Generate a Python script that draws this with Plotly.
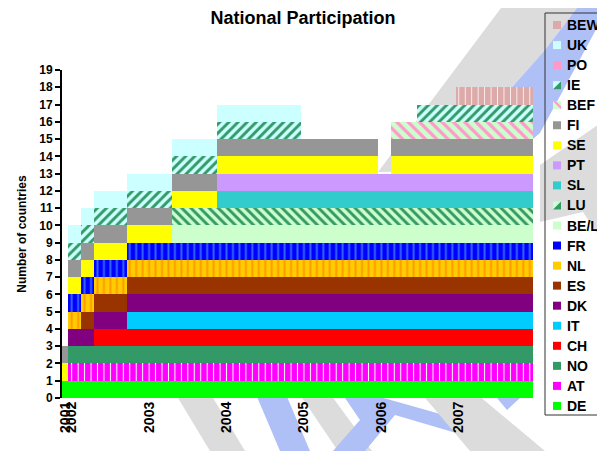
import pandas as pd
import plotly.graph_objects as go

# ---------------- data ----------------
months = [p.strftime("%Y-%m") for p in pd.period_range("2001-12", "2007-12", freq="M")]

tick_months = ["2001-12", "2002-01", "2003-01", "2004-01", "2005-01", "2006-01", "2007-01"]
tick_labels = ["2001", "2002", "2003", "2004", "2005", "2006", "2007"]

# stacking order (bottom -> top)
countries = ["DE", "AT", "NO", "CH", "IT", "DK", "ES", "NL", "FR", "BE/LU",
             "LU", "SL", "PT", "SE", "FI", "BEF", "IE", "PO", "UK", "BEW"]

# participation periods (inclusive months)
period_country = ["DE", "AT", "NO", "CH", "IT", "DK", "ES", "NL", "FR", "BE/LU",
                  "LU", "SL", "PT", "SE", "SE", "FI", "FI", "BEF", "IE", "IE",
                  "UK", "BEW"]
period_start = ["2001-12", "2002-01", "2002-01", "2002-05", "2002-10", "2002-01", "2002-03", "2002-01", "2002-01", "2003-05",
                "2003-05", "2003-12", "2003-12", "2001-12", "2006-03", "2001-12", "2006-03", "2006-03", "2002-01", "2006-07",
                "2002-01", "2007-01"]
period_end = ["2007-12", "2007-12", "2007-12", "2007-12", "2007-12", "2007-12", "2007-12", "2007-12", "2007-12", "2007-12",
              "2007-12", "2007-12", "2007-12", "2005-12", "2007-12", "2005-12", "2007-12", "2007-12", "2004-12", "2007-12",
              "2004-12", "2007-12"]

# ---------------- styles ----------------
base_color = {
    "DE": "#00FF00", "AT": "#FF00FF", "NO": "#339966", "CH": "#FF0000", "IT": "#00CCFF",
    "DK": "#800080", "ES": "#993300", "NL": "#FFCC00", "FR": "#0000FF", "BE/LU": "#CCFFCC",
    "LU": "#CCFFCC", "SL": "#33CCCC", "PT": "#CC99FF", "SE": "#FFFF00", "FI": "#969696",
    "BEF": "#CCFFCC", "IE": "#CCFFFF", "PO": "#FF99CC", "UK": "#CCFFFF", "BEW": "#DDAAAA",
}
MONTH_PX = 471 / 73.0
patterns = {
    "AT": dict(shape="|", fgcolor="#FFFFFF", size=MONTH_PX, solidity=0.16),
    "NL": dict(shape="|", fgcolor="#FF9900", size=MONTH_PX, solidity=0.3),
    "FR": dict(shape="|", fgcolor="#3366FF", size=MONTH_PX, solidity=0.3),
    "IE": dict(shape="/", fgcolor="#339966", size=MONTH_PX, solidity=0.45),
    "LU": dict(shape="\\", fgcolor="#339966", size=MONTH_PX, solidity=0.45),
    "BEF": dict(shape="\\", fgcolor="#FF99CC", size=8, solidity=0.4),
    "BEW": dict(shape="|", fgcolor="#FFFFFF", size=MONTH_PX, solidity=0.12),
}

FONT = "Liberation Sans, Arial, sans-serif"

fig = go.Figure()
for c in countries:
    active = set()
    for pc, s, e in zip(period_country, period_start, period_end):
        if pc == c:
            active.update(m for m in months if s <= m <= e)
    y = [1 if m in active else 0 for m in months]
    marker = dict(color=base_color[c], line=dict(width=0))
    if c in patterns:
        p = dict(patterns[c])
        p["bgcolor"] = base_color[c]
        p["fillmode"] = "replace"
        marker["pattern"] = p
    fig.add_trace(go.Bar(x=months, y=y, name=c, marker=marker, width=1.0,
                         showlegend=False, hoverinfo="skip"))

# ---------------- layout ----------------
OFF = 8  # page body margin of the html page
W, H = 605 - OFF, 451 - OFF
L, R, T, B = 62 - OFF, 605 - 533, 70 - OFF, 451 - 398
pw, ph = W - L - R, H - T - B


def px_x(x):
    return (x - OFF - L) / pw


def px_y(y):
    return (H - B - (y - OFF)) / ph


def poly(points):
    return "M " + " L ".join(f"{px_x(x):.5f} {px_y(y):.5f}" for x, y in points) + " Z"


shapes = []
annotations = []

# faint background watermark bands
GRAY = "#DCDCDC"
BLUE = "#AFC0F7"
bands = [
    # upper right
    (GRAY, [(507, 0), (583, 0), (545, 50), (490, 112), (455, 171), (378, 172)]),
    (BLUE, [(583, 0), (612, 0), (540, 133), (520, 150), (490, 112), (545, 50)]),
    (GRAY, [(540, 165), (605, 120), (605, 245), (583, 212), (540, 222)]),
    # below the axis
    (GRAY, [(137, 330), (172, 330), (245, 451), (210, 451)]),
    (BLUE, [(216, 300), (246, 300), (310, 451), (280, 451)]),
    (GRAY, [(290, 380), (320, 380), (372, 451), (338, 451)]),
    (BLUE, [(343, 395), (373, 395), (490, 428), (480, 440), (395, 415), (365, 451), (333, 451), (360, 420)]),
    (GRAY, [(410, 380), (460, 380), (545, 451), (470, 451)]),
    (BLUE, [(497, 398), (520, 398), (507, 410)]),
]
for col, pts in bands:
    shapes.append(dict(type="path", xref="paper", yref="paper", path=poly(pts),
                       line=dict(width=0), fillcolor=col, layer="below"))

# manual legend (box + swatches + labels)
shapes.append(dict(type="rect", xref="paper", yref="paper",
                   x0=px_x(545), x1=px_x(640), y0=px_y(415), y1=px_y(13),
                   line=dict(color="#333333", width=1), fillcolor="rgba(0,0,0,0)", layer="above"))
legend_order = countries[::-1]
for i, c in enumerate(legend_order):
    yc = 25 + 20.05 * i
    shapes.append(dict(type="rect", xref="paper", yref="paper",
                       x0=px_x(553), x1=px_x(561), y0=px_y(yc + 4), y1=px_y(yc - 4),
                       line=dict(width=0), fillcolor=base_color[c], layer="above"))
    if c in ("IE", "LU"):
        shapes.append(dict(type="path", xref="paper", yref="paper",
                           path=poly([(553, yc + 4), (561, yc + 4), (561, yc - 4)]),
                           line=dict(width=0), fillcolor="#339966", layer="above"))
    if c == "BEF":
        shapes.append(dict(type="path", xref="paper", yref="paper",
                           path=poly([(553, yc - 4), (556, yc - 4), (561, yc + 1), (561, yc + 4)]),
                           line=dict(width=0), fillcolor="#FF99CC", layer="above"))
    annotations.append(dict(xref="paper", yref="paper", x=px_x(565), y=px_y(yc),
                            text=c, showarrow=False, xanchor="left", yanchor="middle",
                            font=dict(family=FONT, size=14, color="black", weight="bold")))

fig.update_layout(
    width=W, height=H,
    margin=dict(l=L, r=R, t=T, b=B, pad=0),
    paper_bgcolor="white", plot_bgcolor="rgba(0,0,0,0)",
    barmode="stack", bargap=0,
    title=dict(text="National Participation", x=(303 - OFF) / W, xanchor="center",
               y=1 - (18 - OFF) / H, yanchor="middle",
               font=dict(family=FONT, size=18, color="black", weight="bold")),
    xaxis=dict(type="category", categoryorder="array", categoryarray=months,
               range=[-0.5, len(months) - 0.5], tickmode="array", tickvals=tick_months, ticktext=tick_labels,
               tickangle=-90, ticks="", showline=False, showgrid=False, zeroline=False,
               tickfont=dict(family=FONT, size=14, color="black", weight="bold")),
    yaxis=dict(range=[0, 19], dtick=1, tick0=0, ticks="outside", ticklen=5, tickwidth=1.5, tickcolor="black",
               showline=True, linecolor="black", linewidth=2, showgrid=False, zeroline=False,
               tickfont=dict(family=FONT, size=12, color="black", weight="bold"),
               title=dict(text="Number of countries", standoff=10,
                          font=dict(family=FONT, size=12, color="black", weight="bold"))),
    shapes=shapes, annotations=annotations, showlegend=False,
)

fig.write_html("out.html")
